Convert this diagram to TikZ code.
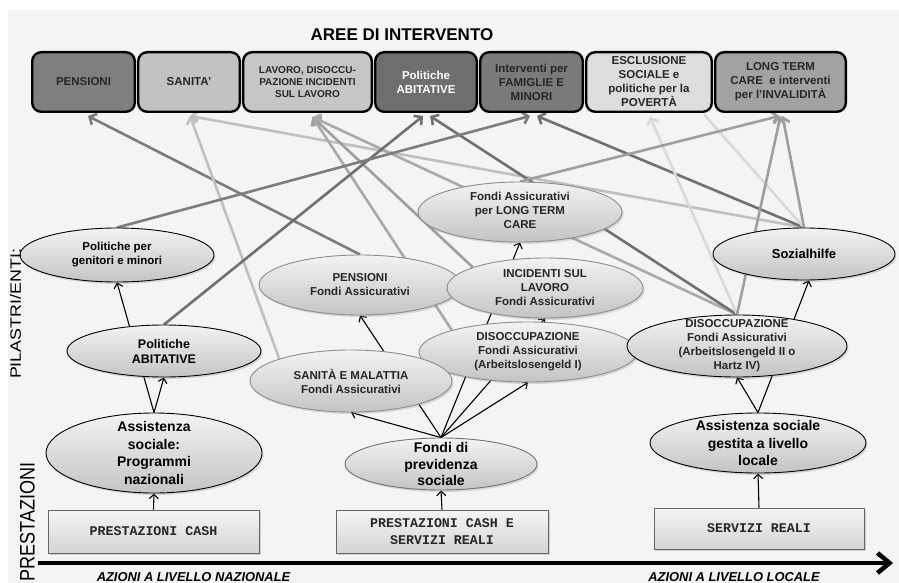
\documentclass[tikz,border=0pt]{standalone}
\usepackage{graphicx}
\usepackage{fontspec}
\setmainfont{Liberation Sans}
\setmonofont{Liberation Mono}
\usetikzlibrary{shapes.geometric,arrows.meta,shadows}

\pgfdeclarelayer{back}
\pgfdeclarelayer{wires}
\pgfsetlayers{back,wires,main}

\definecolor{paper}{HTML}{F4F4F4}
\definecolor{inkdark}{HTML}{262626}
\definecolor{boxA}{HTML}{7F7F7F}
\definecolor{boxB}{HTML}{C2C2C2}
\definecolor{boxC}{HTML}{C6C6C6}
\definecolor{boxD}{HTML}{6E6E6E}
\definecolor{boxE}{HTML}{7A7A7A}
\definecolor{boxF}{HTML}{DDDDDD}
\definecolor{boxG}{HTML}{A2A2A2}
\definecolor{wdark}{HTML}{707070}
\definecolor{wdim}{HTML}{7C7C7C}
\definecolor{wmid}{HTML}{9E9E9E}
\definecolor{wsoft}{HTML}{A9A9A9}
\definecolor{wlight}{HTML}{C0C0C0}
\definecolor{wpale}{HTML}{D9D9D9}
\definecolor{ovtop}{HTML}{F3F3F3}
\definecolor{ovbot}{HTML}{C4C4C4}

\newcommand\setfs[2]{\fontsize{#1}{#2}\selectfont}

\begin{document}
\begin{tikzpicture}[x=1pt,y=-1pt,
  area/.style={draw=black, line width=2.4pt, rounded corners=9pt, fill=#1,
    minimum height=59.6pt, inner sep=0pt, align=center, text=inkdark,
    font=\bfseries\setfs{11.5}{14}},
  oval/.style={ellipse, draw=#1, line width=0.9pt, top color=ovtop, bottom color=ovbot,
    inner sep=0pt, drop shadow={opacity=0.25, shadow xshift=1.5pt, shadow yshift=-2pt}},
  ovtext/.style={align=center, inner sep=0pt, text=inkdark, font=\bfseries\setfs{11.5}{14}},
  base/.style={draw=black!60, line width=0.8pt, top color=black!4, bottom color=black!17,
    minimum height=43pt, inner sep=0pt, align=center, text=inkdark,
    font=\ttfamily\bfseries\setfs{13.3}{17},
    drop shadow={opacity=0.3, shadow xshift=1.5pt, shadow yshift=-1.5pt}},
  link/.style={draw=black, line width=1.1pt, -{Straight Barb[length=4.5pt,width=9pt]}},
  wire/.style={draw=#1, line width=2.6pt, -{Straight Barb[length=5.5pt,width=12pt]}},
  plainwire/.style={draw=#1, line width=2.6pt}
]
\useasboundingbox (0,0) rectangle (899,583);
\begin{pgfonlayer}{back}
  \fill[paper] (8,10) rectangle (899,583);
\end{pgfonlayer}

% heading and intervention areas
\node[font=\bfseries\setfs{17}{20}, text=black] (ttl) at (402,35) {AREE DI INTERVENTO};
\node[area=boxA, minimum width=102.6pt] (pb) at (83.5,82) {PENSIONI};
\node[area=boxB, minimum width=101.6pt] (sb) at (189,82) {SANITA'};
\node[area=boxC, minimum width=128.6pt, font=\bfseries\setfs{10}{11.7}] (lb) at (307.5,82)
  {LAVORO, DISOCCU-\\PAZIONE INCIDENTI\\SUL LAVORO};
\node[area=boxD, minimum width=101.6pt, text=white] (ab) at (426,82) {Politiche\\ABITATIVE};
\node[area=boxE, minimum width=102.6pt] (fb) at (531.5,82) {Interventi per\\FAMIGLIE E\\MINORI};
\node[area=boxF, minimum width=125.6pt] (eb) at (649,82) {ESCLUSIONE\\SOCIALE e\\politiche per la\\POVERTÀ};
\node[area=boxG, minimum width=130.6pt] (cb) at (780.5,82) {LONG TERM\\CARE\ \ e interventi\\per l’INVALIDITÀ};

% pillars / bodies
\node[oval=black, minimum width=194pt, minimum height=54pt] (gen) at (117,255) {};
\node[ovtext, text=black] (gent) at (gen) {Politiche per\\genitori e minori};
\node[oval=black, minimum width=194pt, minimum height=52pt] (abe) at (164,351) {};
\node[ovtext, text=black, font=\bfseries\setfs{12.5}{15}] (abet) at (abe) {Politiche\\ABITATIVE};
\node[oval=black, minimum width=216pt, minimum height=80pt] (asn) at (154,453) {};
\node[ovtext, text=black, font=\bfseries\setfs{14}{17.5}] (asnt) at (asn) {Assistenza\\sociale:\\Programmi\\nazionali};
\node[oval=black!45, minimum width=202pt, minimum height=60pt] (pef) at (360,285) {};
\node[ovtext] (peft) at (pef) {PENSIONI\\Fondi Assicurativi};
\node[oval=black!45, minimum width=196pt, minimum height=60pt] (inc) at (545,288) {};
\node[ovtext] (inct) at (inc) {INCIDENTI SUL\\LAVORO\\Fondi Assicurativi};
\node[oval=black!45, minimum width=204pt, minimum height=60pt] (ltc) at (520,212) {};
\node[ovtext] (ltct) at ([yshift=1.5pt]ltc.center) {Fondi Assicurativi\\per LONG TERM\\CARE};
\node[oval=black!45, minimum width=218pt, minimum height=60pt] (dis1) at (528,352) {};
\node[ovtext] (dis1t) at (dis1) {DISOCCUPAZIONE\\Fondi Assicurativi\\(Arbeitslosengeld I)};
\node[oval=black!45, minimum width=202pt, minimum height=62pt] (san) at (351,381) {};
\node[ovtext] (sant) at (san) {SANITÀ E MALATTIA\\Fondi Assicurativi};
\node[oval=black!55, minimum width=192pt, minimum height=52pt] (prev) at (441,464) {};
\node[ovtext, text=black, font=\bfseries\setfs{14}{16.5}] (prevt) at (prev) {Fondi di\\previdenza\\sociale};
\node[oval=black, minimum width=220pt, minimum height=62pt] (dis2) at (737,346) {};
\node[ovtext] (dis2t) at (dis2) {DISOCCUPAZIONE\\Fondi Assicurativi\\(Arbeitslosengeld II o\\Hartz IV)};
\node[oval=black, minimum width=182pt, minimum height=52pt] (soz) at (804,254) {};
\node[ovtext, text=black, font=\bfseries\setfs{13}{15}] (sozt) at (soz) {Sozialhilfe};
\node[oval=black, minimum width=216pt, minimum height=60pt] (asl) at (758,443) {};
\node[ovtext, text=black, font=\bfseries\setfs{14}{17.5}] (aslt) at (asl) {Assistenza sociale\\gestita a livello\\locale};

% benefits
\node[base, minimum width=211pt] (pc) at (153.5,531.5) {PRESTAZIONI CASH};
\node[base, minimum width=212pt] (pcs) at (442,531.5) {PRESTAZIONI CASH E\\SERVIZI REALI};
\node[base, minimum width=210pt, minimum height=41pt] (sr) at (759,528.5) {SERVIZI REALI};

% side captions and axis
\node[rotate=90, font=\setfs{15}{18}, text=black] (pil) at (15.5,314) {\scalebox{1.19}[1]{PILASTRI/ENTI:}};
\node[rotate=90, font=\setfs{21}{24}, text=black] (pre) at (27.5,522) {\scalebox{0.86}[1]{PRESTAZIONI}};
\node[font=\bfseries\itshape\setfs{12.9}{15}, text=black] (nat) at (193.5,577) {AZIONI A LIVELLO NAZIONALE};
\node[font=\bfseries\itshape\setfs{12.9}{15}, text=black] (loc) at (734,577) {AZIONI A LIVELLO LOCALE};
\coordinate (axs) at (38,563);
\coordinate (axe) at (893,563);
\draw[line width=4.5pt, -{Straight Barb[length=12pt,width=20pt]}] (axs) -- (axe);

\begin{pgfonlayer}{wires}
  % funding links
  \draw[link] (pc.north) -- (asn.south);
  \draw[link] (asn.north) -- (abe.south);
  \draw[link] (asn.north) -- (gen.south);
  \draw[link] (pcs.north) -- (prev.south);
  \draw[link] (prev.north) -- (san.south);
  \draw[link] (prev.north) -- (pef.south);
  \draw[link] (prev.north) -- (ltc.south);
  \draw[link] (prev.north) -- (inc.south);
  \draw[link] (prev.north) -- (dis1.south);
  \draw[link] (sr.north) -- (asl.south);
  \draw[link] (asl.north) -- (dis2.south);
  \draw[link] (asl.north) -- ([xshift=5pt]soz.south);

  % links to the intervention areas
  \draw[wire=wdim]   (pef.north)       -- ([shift={(4.5,3)}]pb.south);
  \draw[wire=wlight] (san.north west)  -- ([shift={(1,3)}]sb.south);
  \draw[wire=wlight] (soz.north)       -- ([shift={(1,3)}]sb.south);
  \draw[wire=wsoft]  (dis1.164)        -- ([shift={(5,4)}]lb.south);
  \draw[wire=wmid]   (inc.164)         -- ([shift={(5,4)}]lb.south);
  \draw[wire=wsoft]  (dis2.north)      -- ([shift={(5,4)}]lb.south);
  \draw[wire=wdark]  (abe.north)       -- ([shift={(-3,3)}]ab.south);
  \draw[wire=wdark]  (dis2.north)      -- ([shift={(4,3)}]ab.south);
  \draw[wire=wdim]   (gen.north)       -- ([shift={(-1.5,3)}]fb.south);
  \draw[wire=wdark]  (soz.north)       -- ([shift={(5.5,3)}]fb.south);
  \draw[wire=wpale]  (dis2.north)      -- ([shift={(1,4)}]eb.south);
  \draw[plainwire=wpale] (soz.north)   -- ([shift={(55,1.5)}]eb.south);
  \draw[wire=wmid]   (ltc.north)       -- ([shift={(-1,3)}]cb.south);
  \draw[wire=wmid]   (dis2.north)      -- ([shift={(0,3)}]cb.south);
  \draw[wire=wmid]   (soz.north)       -- ([shift={(2,3)}]cb.south);
\end{pgfonlayer}
\end{tikzpicture}
\end{document}
